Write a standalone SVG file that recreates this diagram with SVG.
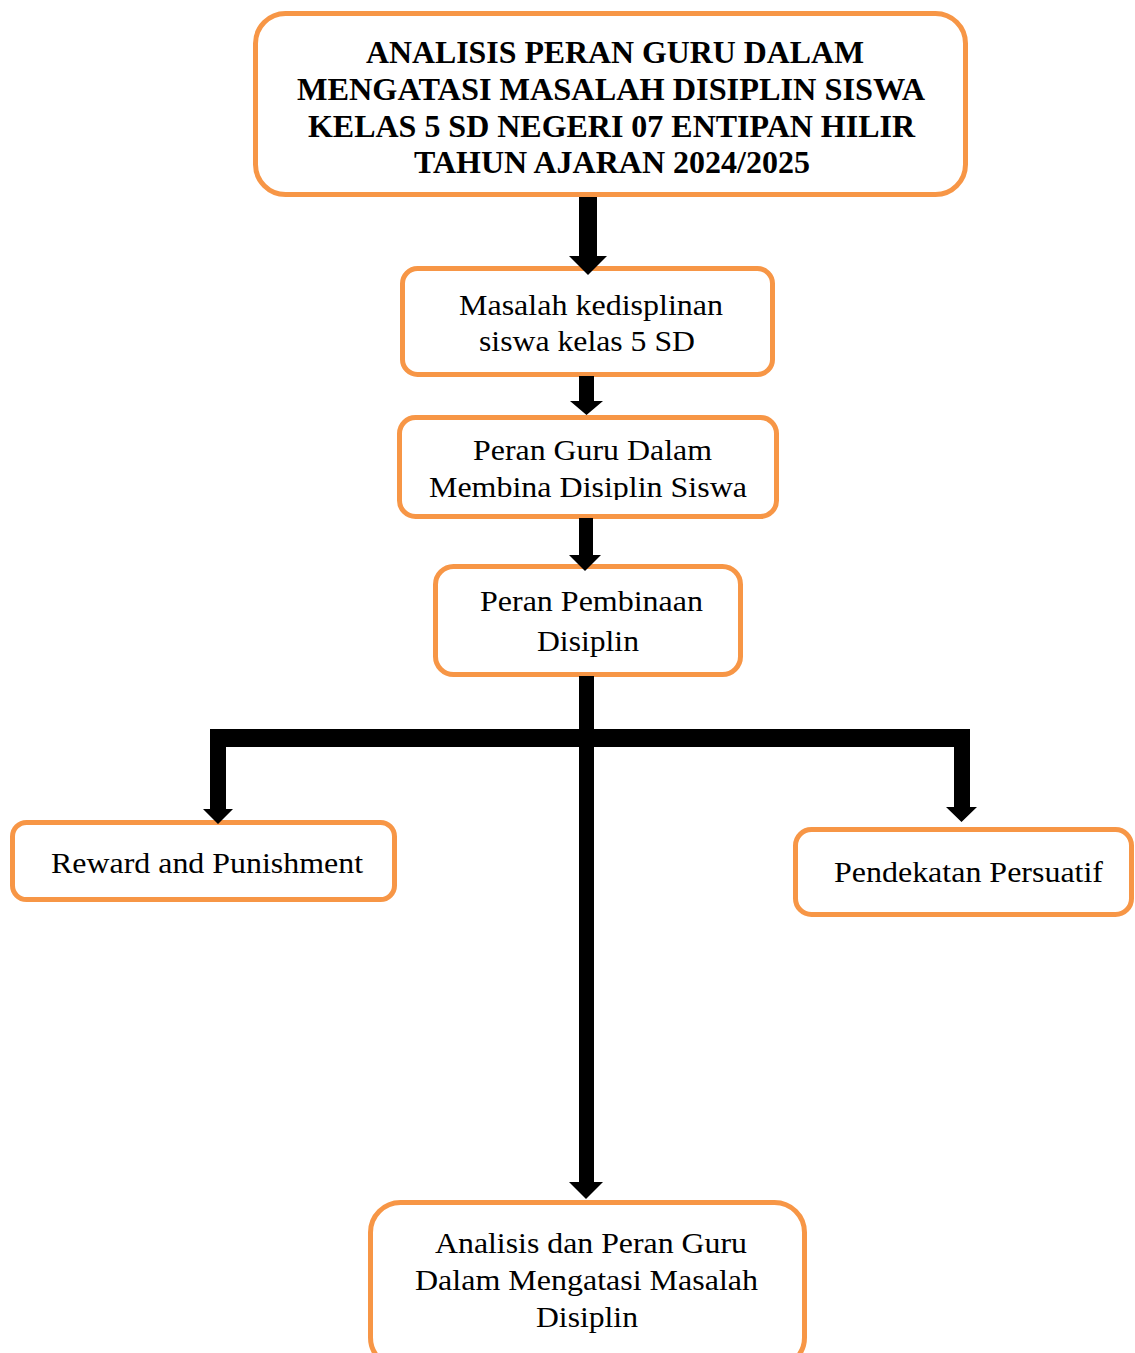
<svg xmlns="http://www.w3.org/2000/svg" width="1135" height="1353" viewBox="0 0 1135 1353">
<style>
.box{fill:#FFFFFF;stroke:#F79646;stroke-width:5}
.t{font-family:'Liberation Serif','Times New Roman',Tinos,Times,serif;font-size:30px;fill:#000}
.tb{font-family:'Liberation Serif','Times New Roman',Tinos,Times,serif;font-size:31px;font-weight:bold;fill:#000}
.arr{fill:#000}
</style>
<defs>
<clipPath id="clip3"><rect x="397" y="415" width="382" height="85"/></clipPath>
</defs>
<rect width="1135" height="1353" fill="#FFFFFF"/>
<g id="node-title">
<rect class="box" x="255.5" y="13.5" width="710" height="181" rx="30"/>
<text class="tb" x="366" y="63" textLength="498" lengthAdjust="spacingAndGlyphs">ANALISIS PERAN GURU DALAM</text>
<text class="tb" x="297" y="100" textLength="628" lengthAdjust="spacingAndGlyphs">MENGATASI MASALAH DISIPLIN SISWA</text>
<text class="tb" x="308" y="137" textLength="607" lengthAdjust="spacingAndGlyphs">KELAS 5 SD NEGERI 07 ENTIPAN HILIR</text>
<text class="tb" x="414" y="173" textLength="396" lengthAdjust="spacingAndGlyphs">TAHUN AJARAN 2024/2025</text>
</g>
<g id="node-masalah">
<rect class="box" x="402.5" y="268.5" width="370" height="106" rx="15"/>
<text class="t" x="459" y="315" textLength="264" lengthAdjust="spacingAndGlyphs">Masalah kedisplinan</text>
<text class="t" x="479" y="351" textLength="216" lengthAdjust="spacingAndGlyphs">siswa kelas 5 SD</text>
</g>
<g id="node-peran-guru">
<rect class="box" x="399.5" y="417.5" width="377" height="99" rx="16"/>
<g clip-path="url(#clip3)">
<text class="t" x="473" y="460" textLength="239" lengthAdjust="spacingAndGlyphs">Peran Guru Dalam</text>
<text class="t" x="429" y="497" textLength="318" lengthAdjust="spacingAndGlyphs">Membina Disiplin Siswa</text>
</g>
</g>
<g id="node-pembinaan">
<rect class="box" x="435.5" y="566.5" width="305" height="108" rx="18"/>
<text class="t" x="480" y="611" textLength="223" lengthAdjust="spacingAndGlyphs">Peran Pembinaan</text>
<text class="t" x="537" y="651" textLength="102" lengthAdjust="spacingAndGlyphs">Disiplin</text>
</g>
<g id="node-reward">
<rect class="box" x="12.5" y="822.5" width="382" height="77" rx="14"/>
<text class="t" x="51" y="873" textLength="312" lengthAdjust="spacingAndGlyphs">Reward and Punishment</text>
</g>
<g id="node-persuatif">
<rect class="box" x="795.5" y="829.5" width="336" height="85" rx="16"/>
<text class="t" x="834" y="882" textLength="269" lengthAdjust="spacingAndGlyphs">Pendekatan Persuatif</text>
</g>
<g id="node-analisis">
<rect class="box" x="370.5" y="1202.5" width="434" height="165" rx="30"/>
<text class="t" x="435" y="1253" textLength="312" lengthAdjust="spacingAndGlyphs">Analisis dan Peran Guru</text>
<text class="t" x="415" y="1290" textLength="343" lengthAdjust="spacingAndGlyphs">Dalam Mengatasi Masalah</text>
<text class="t" x="536" y="1327" textLength="102" lengthAdjust="spacingAndGlyphs">Disiplin</text>
</g>
<g id="connectors">
<polygon class="arr" points="579,197 597,197 597,256 607,256 588,275 569,256 579,256"/>
<polygon class="arr" points="579,376 594,376 594,401 603,401 586.5,415 570,401 579,401"/>
<polygon class="arr" points="579,518 593,518 593,555 601,555 585,571 569,555 579,555"/>
<polygon class="arr" points="579,676 594,676 594,1182 603,1182 586,1199 569,1182 579,1182"/>
<rect class="arr" x="210" y="729" width="760" height="18"/>
<polygon class="arr" points="210,747 226,747 226,809 233,809 218,824 203,809 210,809"/>
<polygon class="arr" points="954,747 970,747 970,807 977,807 961.5,822 946,807 954,807"/>
</g>
</svg>
